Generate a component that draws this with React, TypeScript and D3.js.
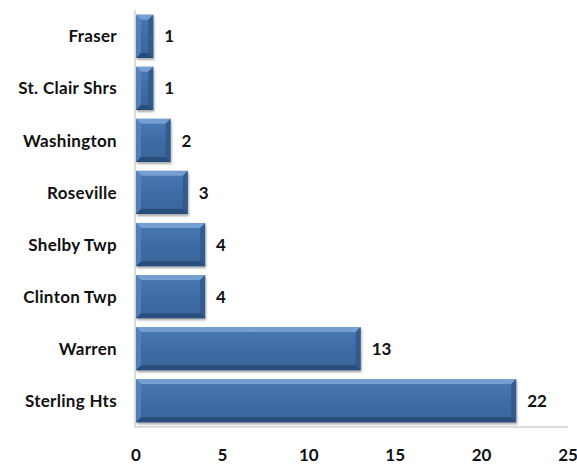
import * as React from "react";
import * as d3 from "d3";

const categories = [
  "Fraser",
  "St. Clair Shrs",
  "Washington",
  "Roseville",
  "Shelby Twp",
  "Clinton Twp",
  "Warren",
  "Sterling Hts",
];
const values = [1, 1, 2, 3, 4, 4, 13, 22];
const ticks = [0, 5, 10, 15, 20, 25];

const W = 577;
const H = 465;
const margin = { top: 10, right: 9, bottom: 38, left: 136 };
const font = "Lato, 'Open Sans', sans-serif";

export default function App() {
  const x = d3
    .scaleLinear()
    .domain([0, 25])
    .range([margin.left, W - margin.right]);
  const y = d3
    .scaleBand()
    .domain(categories)
    .range([margin.top, H - margin.bottom])
    .paddingInner(0.17)
    .paddingOuter(0.09);
  const bw = y.bandwidth();
  const bev = 5;

  return (
    <svg
      width={W}
      height={H}
      style={{ position: "absolute", left: 0, top: 0, background: "#fff" }}
    >
      <defs>
        <linearGradient id="barFill" x1="0" y1="0" x2="0" y2="1">
          <stop offset="0%" stopColor="#4a7ab5" />
          <stop offset="50%" stopColor="#3f6ca6" />
          <stop offset="100%" stopColor="#3a6399" />
        </linearGradient>
        <filter id="shadow" x="-10%" y="-10%" width="130%" height="140%">
          <feDropShadow dx="1" dy="2" stdDeviation="1.2" floodColor="#000" floodOpacity="0.35" />
        </filter>
      </defs>
      {/* axes */}
      <line
        x1={margin.left - 1}
        x2={margin.left - 1}
        y1={margin.top}
        y2={H - margin.bottom}
        stroke="#b8b8b8"
        strokeWidth={1}
      />
      <line
        x1={margin.left - 1}
        x2={W - margin.right}
        y1={H - margin.bottom}
        y2={H - margin.bottom}
        stroke="#b8b8b8"
        strokeWidth={1}
      />
      {categories.map((c, i) => {
        const x0 = x(0);
        const x1 = x(values[i]);
        const y0 = y(c)!;
        const y1 = y0 + bw;
        const b = Math.min(bev, (x1 - x0) / 2);
        return (
          <g key={c}>
            <g filter="url(#shadow)">
              <rect x={x0} y={y0} width={x1 - x0} height={bw} fill="url(#barFill)" />
            </g>
            {/* top bevel */}
            <polygon
              points={`${x0},${y0} ${x1},${y0} ${x1 - b},${y0 + b} ${x0 + b},${y0 + b}`}
              fill="#7ea6d6"
              opacity={0.85}
            />
            {/* left bevel */}
            <polygon
              points={`${x0},${y0} ${x0 + b},${y0 + b} ${x0 + b},${y1 - b} ${x0},${y1}`}
              fill="#5684bd"
              opacity={0.8}
            />
            {/* right bevel */}
            <polygon
              points={`${x1},${y0} ${x1},${y1} ${x1 - b},${y1 - b} ${x1 - b},${y0 + b}`}
              fill="#2f5686"
              opacity={0.8}
            />
            {/* bottom bevel */}
            <polygon
              points={`${x0},${y1} ${x0 + b},${y1 - b} ${x1 - b},${y1 - b} ${x1},${y1}`}
              fill="#274a76"
              opacity={0.85}
            />
            <text
              x={margin.left - 19}
              y={y0 + bw / 2}
              dy="0.36em"
              textAnchor="end"
              fontFamily={font}
              fontWeight="bold"
              fontSize={17}
              letterSpacing={0.3}
              fill="#111"
            >
              {c}
            </text>
            <text
              x={x1 + 11}
              y={y0 + bw / 2}
              dy="0.36em"
              fontFamily={font}
              fontWeight="bold"
              fontSize={17}
              fill="#111"
            >
              {values[i]}
            </text>
          </g>
        );
      })}
      {ticks.map((t) => (
        <text
          key={t}
          x={x(t)}
          y={H - 4}
          textAnchor="middle"
          fontFamily={font}
          fontWeight="bold"
          fontSize={17}
          fill="#111"
        >
          {t}
        </text>
      ))}
    </svg>
  );
}
